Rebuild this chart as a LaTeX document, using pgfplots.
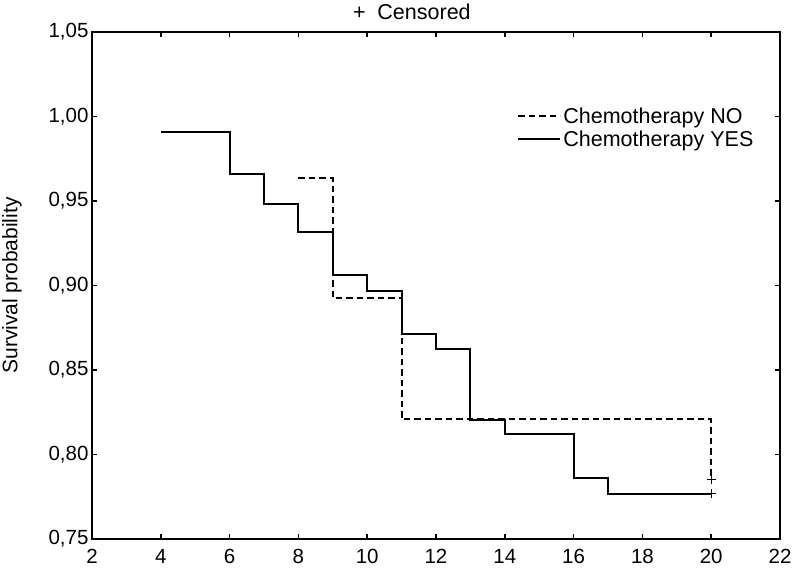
\documentclass[border=0pt]{standalone}
\usepackage{fontspec}
\setmainfont{Liberation Sans}
\usepackage{pgfplots}
\pgfplotsset{compat=1.18}
\begin{document}
\begin{tikzpicture}
\useasboundingbox (-92pt,-32pt) rectangle (700pt,539pt);
\begin{axis}[
  scale only axis, width=688pt, height=507pt,
  xmin=2, xmax=22, ymin=0.75, ymax=1.05,
  xtick={2,4,...,22},
  ytick={0.75,0.80,0.85,0.90,0.95,1.00,1.05},
  tick align=inside,
  major tick length=5pt,
  axis line style={line width=2pt},
  every tick/.style={black, line width=1.5pt},
  /pgf/number format/assume math mode=true,
  ticklabel style={font=\fontsize{20.5}{24}\selectfont},
  yticklabel style={/pgf/number format/.cd, fixed, fixed zerofill, precision=2, use comma},
  xticklabel style={/pgf/number format/.cd, fixed, /tikz/yshift=-7pt},
  every axis y label/.style={at={(axis description cs:0,0.5)}, xshift=-80pt, rotate=90, anchor=center, font=\fontsize{21}{25}\selectfont},
  ylabel={Survival probability},
  legend style={draw=none, fill=none, at={(rel axis cs:0.618,0.855)}, anchor=north west,
    font=\fontsize{21.5}{25}\selectfont, row sep=2pt, cells={anchor=west}, inner sep=0pt},
  legend image code/.code={\draw[#1] (0pt,0pt) -- (31pt,0pt); \path (0pt,0pt) -- (42pt,0pt);},
  clip=false,
]
\addplot[black, line width=1.8pt, dash pattern=on 6.5pt off 4pt, const plot] coordinates {
  (8,0.9634) (9,0.8924) (11,0.8208) (20,0.8208) (20,0.7853)
};
\addlegendentry{Chemotherapy NO}
\addplot[black, line width=2pt, const plot] coordinates {
  (4,0.991) (6,0.9658) (7,0.948) (8,0.9318) (9,0.906) (10,0.8967) (11,0.8713)
  (12,0.8624) (13,0.8206) (14,0.8121) (16,0.7861) (17,0.7768) (20,0.7768)
};
\addlegendentry{Chemotherapy YES}
\addplot[black, only marks, mark=+, mark size=4.5pt, line width=1.4pt, forget plot] coordinates {
  (20,0.7853) (20,0.7768)
};
\node[font=\fontsize{21.5}{25}\selectfont, anchor=center] at (rel axis cs:0.465,1) [yshift=20pt] {+\hspace{0.55em}Censored};
\end{axis}
\end{tikzpicture}
\end{document}
